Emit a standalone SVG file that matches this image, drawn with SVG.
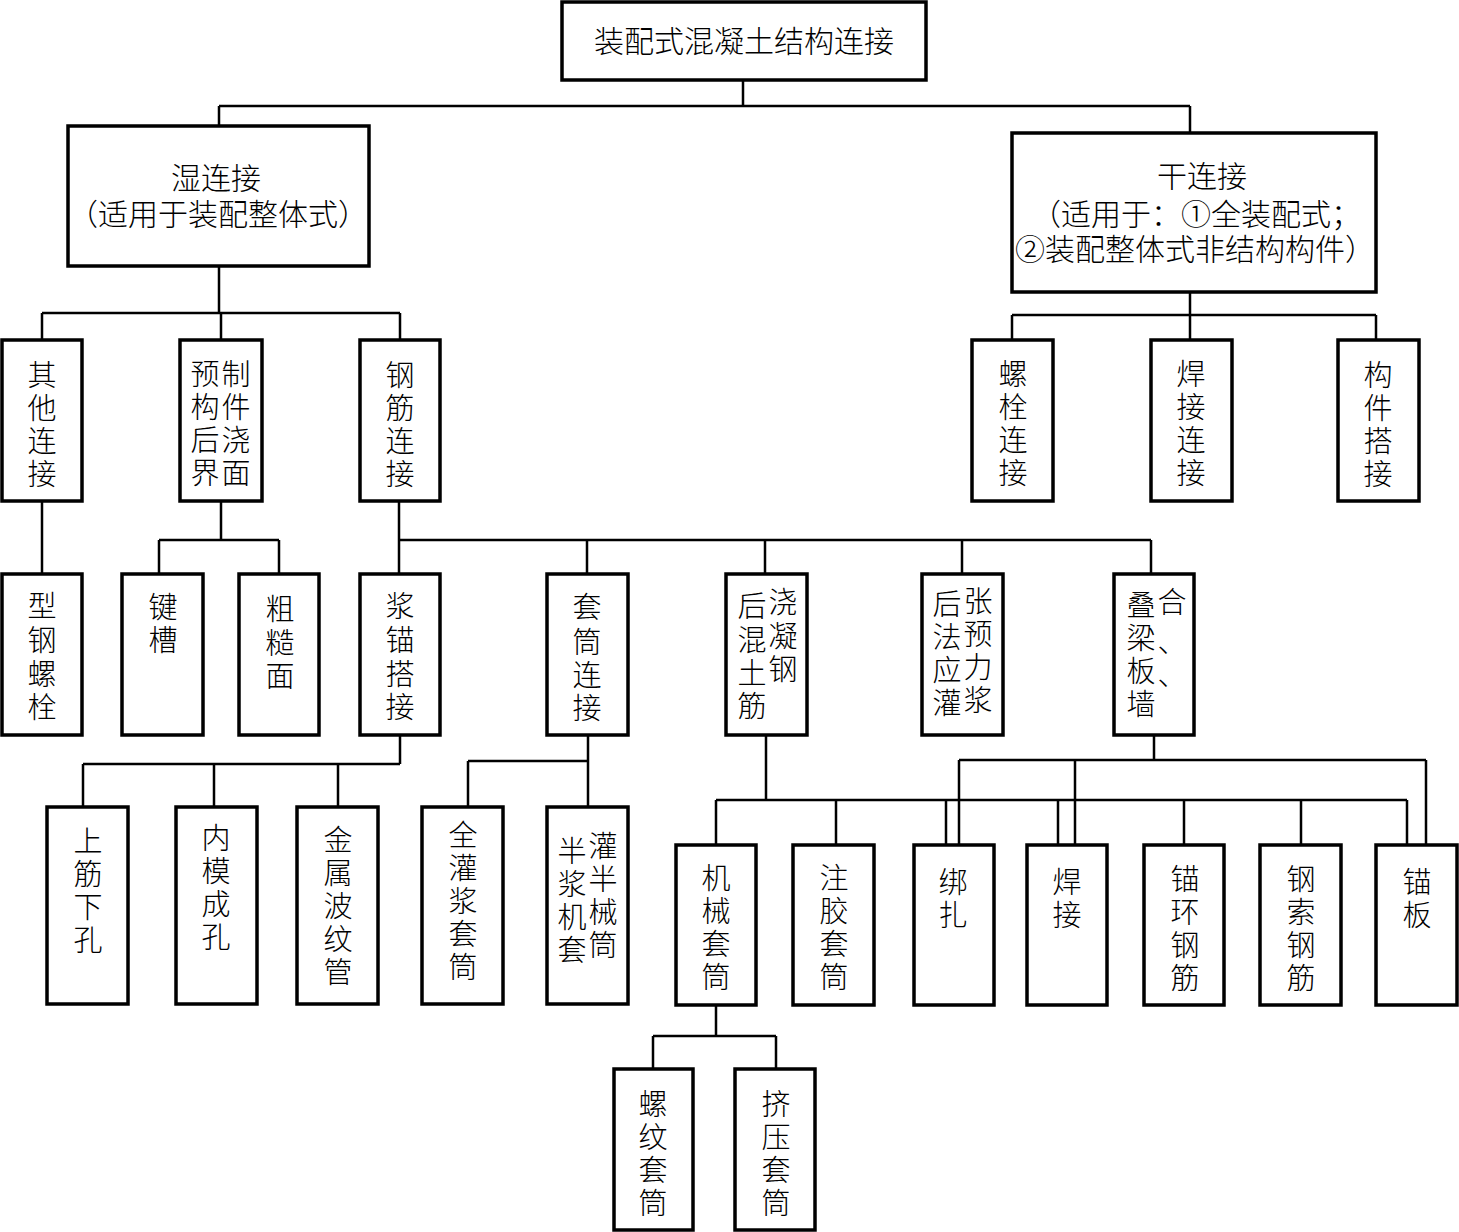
<svg xmlns="http://www.w3.org/2000/svg" width="1459" height="1232" viewBox="0 0 1459 1232">
<style>
.box{fill:#fff;stroke:#000;stroke-width:3.5}
.ln{stroke:#000;stroke-width:2.5;fill:none}
text{font-family:"Liberation Sans","Noto Sans CJK SC",sans-serif;font-size:29px;fill:#000;text-anchor:middle;dominant-baseline:central;font-weight:300}
.h{font-size:30px}
.v{transform:translateY(3px)}
</style>
<rect width="1459" height="1232" fill="#fff"/>
<g id="connectors">
<path class="ln" d="M743 80V106M219 106H1190M219 106V126M1190 106V133"/>
<path class="ln" d="M219 266V313M42 313H400M42 313V340M221 313V340M400 313V340"/>
<path class="ln" d="M1190 292V315M1012 315H1376M1012 315V340M1190 315V340M1376 315V340"/>
<path class="ln" d="M42 501V573"/>
<path class="ln" d="M221 501V540M159 540H279M159 540V573M279 540V573"/>
<path class="ln" d="M399 501V573M399 540H1151M587 540V573M765 540V573M962 540V573M1151 540V573"/>
<path class="ln" d="M400 735V764M83 764H400M83 764V807M214 764V807M338 764V807"/>
<path class="ln" d="M588 735V807M468 761H588M468 761V807"/>
<path class="ln" d="M766 735V800M716 800H1407M716 800V845M836 800V845M946 800V845M1058 800V845M1184 800V845M1301 800V845M1407 800V845"/>
<path class="ln" d="M1154 735V760M959 760H1426M959 760V845M1075 760V845M1426 760V845"/>
<path class="ln" d="M716 1005V1036M653 1036H776M653 1036V1069M776 1036V1069"/>
</g>
<g id="root"><rect class="box" x="562" y="2" width="364" height="78"/><text class="h" x="744" y="41">装配式混凝土结构连接</text></g>
<g id="wet"><rect class="box" x="68" y="126" width="301" height="140"/><text class="h" x="216" y="178">湿连接</text><text class="h" x="218" y="214">（适用于装配整体式）</text></g>
<g id="dry"><rect class="box" x="1012" y="133" width="364" height="159"/><text class="h" x="1202" y="176">干连接</text><text class="h" x="1196" y="214">（适用于：①全装配式；</text><text class="h" x="1195" y="249">②装配整体式非结构构件）</text></g>

<g id="qita"><rect class="box" x="2" y="340" width="80" height="161"/><text class="v"><tspan x="42" y="373">其</tspan><tspan x="42" y="406">他</tspan><tspan x="42" y="439">连</tspan><tspan x="42" y="472">接</tspan></text></g>
<g id="yuzhi"><rect class="box" x="180" y="340" width="82" height="161"/><text class="v"><tspan x="205" y="372">预</tspan><tspan x="236" y="372">制</tspan><tspan x="205" y="405">构</tspan><tspan x="236" y="405">件</tspan><tspan x="205" y="438">后</tspan><tspan x="236" y="438">浇</tspan><tspan x="205" y="471">界</tspan><tspan x="236" y="471">面</tspan></text></g>
<g id="gangjin"><rect class="box" x="360" y="340" width="80" height="161"/><text class="v"><tspan x="400" y="373">钢</tspan><tspan x="400" y="406">筋</tspan><tspan x="400" y="439">连</tspan><tspan x="400" y="472">接</tspan></text></g>
<g id="luoshuan"><rect class="box" x="972" y="340" width="81" height="161"/><text class="v"><tspan x="1013" y="372">螺</tspan><tspan x="1013" y="405">栓</tspan><tspan x="1013" y="438">连</tspan><tspan x="1013" y="471">接</tspan></text></g>
<g id="hanjie1"><rect class="box" x="1151" y="340" width="81" height="161"/><text class="v"><tspan x="1191" y="372">焊</tspan><tspan x="1191" y="405">接</tspan><tspan x="1191" y="438">连</tspan><tspan x="1191" y="471">接</tspan></text></g>
<g id="goujian"><rect class="box" x="1338" y="340" width="81" height="161"/><text class="v"><tspan x="1378" y="373">构</tspan><tspan x="1378" y="406">件</tspan><tspan x="1378" y="439">搭</tspan><tspan x="1378" y="472">接</tspan></text></g>

<g id="xinggang"><rect class="box" x="2" y="574" width="80" height="161"/><text class="v"><tspan x="42" y="604">型</tspan><tspan x="42" y="638">钢</tspan><tspan x="42" y="672">螺</tspan><tspan x="42" y="705">栓</tspan></text></g>
<g id="jiancao"><rect class="box" x="122" y="574" width="81" height="161"/><text class="v"><tspan x="163" y="605">键</tspan><tspan x="163" y="638">槽</tspan></text></g>
<g id="cucao"><rect class="box" x="239" y="574" width="80" height="161"/><text class="v"><tspan x="280" y="607">粗</tspan><tspan x="280" y="641">糙</tspan><tspan x="280" y="674">面</tspan></text></g>
<g id="jiangmao"><rect class="box" x="360" y="574" width="80" height="161"/><text class="v"><tspan x="400" y="604">浆</tspan><tspan x="400" y="638">锚</tspan><tspan x="400" y="672">搭</tspan><tspan x="400" y="705">接</tspan></text></g>
<g id="taotong"><rect class="box" x="547" y="574" width="81" height="161"/><text class="v"><tspan x="587" y="605">套</tspan><tspan x="587" y="640">筒</tspan><tspan x="587" y="673">连</tspan><tspan x="587" y="706">接</tspan></text></g>
<g id="houjiao"><rect class="box" x="726" y="574" width="81" height="161"/><text class="v"><tspan x="752" y="604">后</tspan><tspan x="783" y="600">浇</tspan><tspan x="752" y="638">混</tspan><tspan x="783" y="634">凝</tspan><tspan x="752" y="671">土</tspan><tspan x="783" y="667">钢</tspan><tspan x="752" y="704">筋</tspan></text></g>
<g id="houzhang"><rect class="box" x="922" y="574" width="81" height="161"/><text class="v"><tspan x="947" y="602">后</tspan><tspan x="978" y="599">张</tspan><tspan x="947" y="635">法</tspan><tspan x="978" y="632">预</tspan><tspan x="947" y="668">应</tspan><tspan x="978" y="665">力</tspan><tspan x="947" y="701">灌</tspan><tspan x="978" y="698">浆</tspan></text></g>
<g id="diehe"><rect class="box" x="1114" y="574" width="80" height="161"/><text class="v"><tspan x="1141" y="603">叠</tspan><tspan x="1172" y="600">合</tspan><tspan x="1141" y="636">梁</tspan><tspan x="1172" y="640">、</tspan><tspan x="1141" y="669">板</tspan><tspan x="1172" y="673">、</tspan><tspan x="1141" y="702">墙</tspan></text></g>

<g id="shangjin"><rect class="box" x="47" y="807" width="81" height="197"/><text class="v"><tspan x="88" y="839">上</tspan><tspan x="88" y="872">筋</tspan><tspan x="88" y="905">下</tspan><tspan x="88" y="938">孔</tspan></text></g>
<g id="neimo"><rect class="box" x="176" y="807" width="81" height="197"/><text class="v"><tspan x="216" y="836">内</tspan><tspan x="216" y="869">模</tspan><tspan x="216" y="902">成</tspan><tspan x="216" y="935">孔</tspan></text></g>
<g id="jinshu"><rect class="box" x="297" y="807" width="81" height="197"/><text class="v"><tspan x="338" y="838">金</tspan><tspan x="338" y="871">属</tspan><tspan x="338" y="904">波</tspan><tspan x="338" y="937">纹</tspan><tspan x="338" y="970">管</tspan></text></g>
<g id="quanguan"><rect class="box" x="422" y="807" width="81" height="197"/><text class="v"><tspan x="463" y="833">全</tspan><tspan x="463" y="866">灌</tspan><tspan x="463" y="899">浆</tspan><tspan x="463" y="932">套</tspan><tspan x="463" y="965">筒</tspan></text></g>
<g id="banguan"><rect class="box" x="547" y="807" width="81" height="197"/><text class="v"><tspan x="572" y="849">半</tspan><tspan x="603" y="844">灌</tspan><tspan x="572" y="882">浆</tspan><tspan x="603" y="877">半</tspan><tspan x="572" y="915">机</tspan><tspan x="603" y="910">械</tspan><tspan x="572" y="948">套</tspan><tspan x="603" y="943">筒</tspan></text></g>

<g id="jixie"><rect class="box" x="676" y="845" width="80" height="160"/><text class="v"><tspan x="716" y="876">机</tspan><tspan x="716" y="909">械</tspan><tspan x="716" y="942">套</tspan><tspan x="716" y="975">筒</tspan></text></g>
<g id="zhujiao"><rect class="box" x="793" y="845" width="81" height="160"/><text class="v"><tspan x="834" y="876">注</tspan><tspan x="834" y="909">胶</tspan><tspan x="834" y="942">套</tspan><tspan x="834" y="975">筒</tspan></text></g>
<g id="bangzha"><rect class="box" x="914" y="845" width="80" height="160"/><text class="v"><tspan x="953" y="880">绑</tspan><tspan x="953" y="913">扎</tspan></text></g>
<g id="hanjie2"><rect class="box" x="1027" y="845" width="80" height="160"/><text class="v"><tspan x="1067" y="880">焊</tspan><tspan x="1067" y="913">接</tspan></text></g>
<g id="maohuan"><rect class="box" x="1144" y="845" width="80" height="160"/><text class="v"><tspan x="1185" y="877">锚</tspan><tspan x="1185" y="910">环</tspan><tspan x="1185" y="943">钢</tspan><tspan x="1185" y="976">筋</tspan></text></g>
<g id="gangsuo"><rect class="box" x="1260" y="845" width="81" height="160"/><text class="v"><tspan x="1301" y="877">钢</tspan><tspan x="1301" y="910">索</tspan><tspan x="1301" y="943">钢</tspan><tspan x="1301" y="976">筋</tspan></text></g>
<g id="maoban"><rect class="box" x="1376" y="845" width="81" height="160"/><text class="v"><tspan x="1417" y="880">锚</tspan><tspan x="1417" y="913">板</tspan></text></g>

<g id="luowen"><rect class="box" x="614" y="1069" width="79" height="161"/><text class="v"><tspan x="653" y="1102">螺</tspan><tspan x="653" y="1135">纹</tspan><tspan x="653" y="1168">套</tspan><tspan x="653" y="1201">筒</tspan></text></g>
<g id="jiya"><rect class="box" x="735" y="1069" width="80" height="161"/><text class="v"><tspan x="776" y="1102">挤</tspan><tspan x="776" y="1135">压</tspan><tspan x="776" y="1168">套</tspan><tspan x="776" y="1201">筒</tspan></text></g>
</svg>
